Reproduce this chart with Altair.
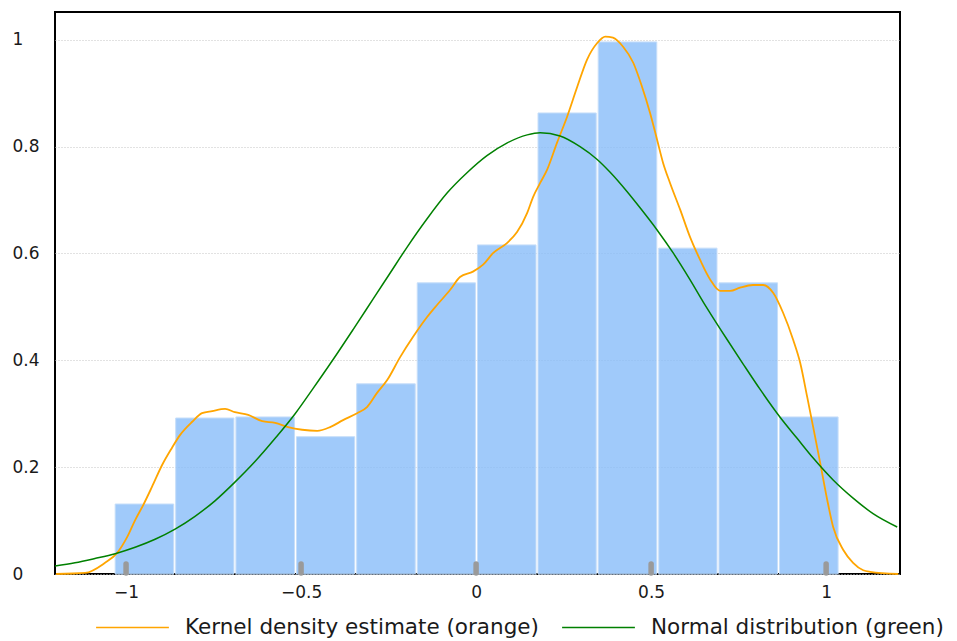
import altair as alt
import pandas as pd

# Histogram of the sample: bin edges and density heights
bin_left = [-1.034, -0.861, -0.689, -0.516, -0.344, -0.171, 0.001, 0.174, 0.346, 0.519, 0.691, 0.864]
bin_right = [-0.861, -0.689, -0.516, -0.344, -0.171, 0.001, 0.174, 0.346, 0.519, 0.691, 0.864, 1.037]
bin_density = [0.131, 0.292, 0.294, 0.257, 0.356, 0.545, 0.616, 0.863, 0.996, 0.610, 0.545, 0.294]

# Kernel density estimate
kde_x = [-1.200, -1.117, -1.060, -1.026, -0.997, -0.974, -0.951, -0.926, -0.897, -0.869,
         -0.846, -0.811, -0.783, -0.754, -0.717, -0.689, -0.651, -0.611, -0.574, -0.537,
         -0.497, -0.454, -0.417, -0.380, -0.340, -0.311, -0.283, -0.254, -0.217, -0.180,
         -0.140, -0.111, -0.074, -0.046, -0.009, 0.020, 0.049, 0.089, 0.117, 0.146,
         0.163, 0.183, 0.203, 0.231, 0.260, 0.289, 0.317, 0.346, 0.369, 0.391,
         0.420, 0.449, 0.474, 0.497, 0.517, 0.534, 0.554, 0.583, 0.611, 0.640,
         0.669, 0.697, 0.726, 0.754, 0.791, 0.820, 0.849, 0.877, 0.906, 0.926,
         0.946, 0.963, 0.983, 1.003, 1.020, 1.049, 1.077, 1.106, 1.126, 1.206]
kde_y = [0.000, 0.002, 0.021, 0.039, 0.069, 0.101, 0.129, 0.163, 0.204, 0.236,
         0.260, 0.285, 0.301, 0.305, 0.309, 0.303, 0.298, 0.286, 0.283, 0.275,
         0.270, 0.268, 0.275, 0.288, 0.301, 0.313, 0.339, 0.363, 0.406, 0.444,
         0.481, 0.504, 0.532, 0.556, 0.566, 0.579, 0.601, 0.620, 0.640, 0.676,
         0.706, 0.732, 0.757, 0.807, 0.856, 0.912, 0.963, 0.994, 1.006, 1.004,
         0.987, 0.957, 0.912, 0.863, 0.813, 0.770, 0.732, 0.682, 0.631, 0.588,
         0.551, 0.530, 0.530, 0.536, 0.541, 0.541, 0.526, 0.489, 0.438, 0.395,
         0.331, 0.275, 0.208, 0.139, 0.088, 0.045, 0.021, 0.007, 0.004, 0.000]

# Fitted normal density
norm_x = [-1.203, -1.146, -1.089, -1.031, -0.974, -0.917, -0.860, -0.803, -0.746, -0.689,
          -0.631, -0.574, -0.517, -0.466, -0.409, -0.351, -0.294, -0.246, -0.197, -0.140,
          -0.083, -0.026, 0.031, 0.089, 0.146, 0.183, 0.240, 0.297, 0.346, 0.383,
          0.431, 0.469, 0.517, 0.563, 0.611, 0.649, 0.669, 0.717, 0.763, 0.811,
          0.869, 0.917, 0.963, 1.020, 1.077, 1.134, 1.203]
norm_y = [0.015, 0.021, 0.029, 0.038, 0.050, 0.065, 0.084, 0.108, 0.137, 0.172,
          0.211, 0.254, 0.300, 0.347, 0.401, 0.458, 0.515, 0.563, 0.612, 0.665,
          0.713, 0.751, 0.783, 0.807, 0.822, 0.826, 0.820, 0.800, 0.776, 0.752,
          0.716, 0.685, 0.644, 0.601, 0.551, 0.509, 0.488, 0.439, 0.393, 0.346,
          0.293, 0.254, 0.217, 0.176, 0.142, 0.113, 0.088]

x_ticks = [-1, -0.5, 0, 0.5, 1]
y_ticks = [0, 0.2, 0.4, 0.6, 0.8, 1]

series_names = ["Kernel density estimate (orange)", "Normal distribution (green)"]
series_colors = ["#ffa500", "#008000"]

FONT = "DejaVu Sans"

hist = pd.DataFrame({"x0": bin_left, "x1": bin_right, "d": bin_density})
kde = pd.DataFrame({"x": kde_x, "y": kde_y, "series": series_names[0]})
norm = pd.DataFrame({"x": norm_x, "y": norm_y, "series": series_names[1]})
ticks = pd.DataFrame({"t": x_ticks})

x_scale = alt.Scale(domain=[-1.203, 1.211], nice=False, zero=False)
y_scale = alt.Scale(domain=[0, 1.052], nice=False)

x_axis = alt.Axis(values=x_ticks, format="~g", title=None, grid=False, ticks=False,
                  tickSize=0, domain=False, labelPadding=10, labelFontSize=17,
                  labelFont=FONT, labelColor="#1a1a1a", labelFlush=False)
y_axis = alt.Axis(values=y_ticks, format="~g", title=None, grid=True, gridColor="#c4c4c4",
                  gridDash=[1, 2], gridWidth=1, ticks=False, tickSize=0, domain=False,
                  labelAlign="left", labelPadding=43, labelFontSize=17, labelFont=FONT,
                  labelColor="#1a1a1a")

color = alt.Color(
    "series:N",
    scale=alt.Scale(domain=series_names, range=series_colors),
    legend=alt.Legend(
        orient="none", legendX=40, legendY=578, direction="horizontal", title=None,
        symbolType="stroke", symbolSize=5300, symbolStrokeWidth=1.6,
        labelFontSize=21.5, labelFont=FONT, labelColor="#1a1a1a", labelLimit=0,
        labelOffset=15, columnPadding=19, padding=0,
    ),
)

bars = alt.Chart(hist).mark_rect(
    fill="#88bdf9", fillOpacity=0.8, stroke="#c6def9", strokeWidth=1,
    xOffset=1, x2Offset=-1,
).encode(
    x=alt.X("x0:Q", scale=x_scale, axis=x_axis),
    x2="x1:Q",
    y=alt.Y("d:Q", scale=y_scale, axis=y_axis),
    y2=alt.datum(0),
)

tick_marks = alt.Chart(ticks).mark_rule(
    color="#9a9a9a", strokeWidth=5.5, strokeCap="round"
).encode(
    x=alt.X("t:Q", scale=x_scale),
    y=alt.value(552),
    y2=alt.value(561),
)

kde_line = alt.Chart(kde).mark_line(strokeWidth=1.8, interpolate="monotone").encode(
    x=alt.X("x:Q", scale=x_scale),
    y=alt.Y("y:Q", scale=y_scale),
    color=color,
)

norm_line = alt.Chart(norm).mark_line(strokeWidth=1.5, interpolate="monotone").encode(
    x=alt.X("x:Q", scale=x_scale),
    y=alt.Y("y:Q", scale=y_scale),
    color=color,
)

chart = alt.layer(bars, tick_marks, kde_line, norm_line).properties(
    width=845,
    height=562,
    autosize="none",
    padding={"left": 55, "top": 12, "right": 57, "bottom": 67},
    background="white",
).configure_view(stroke="black", strokeWidth=2)

chart.save("out.html", embed_options={"renderer": "svg", "actions": False})
